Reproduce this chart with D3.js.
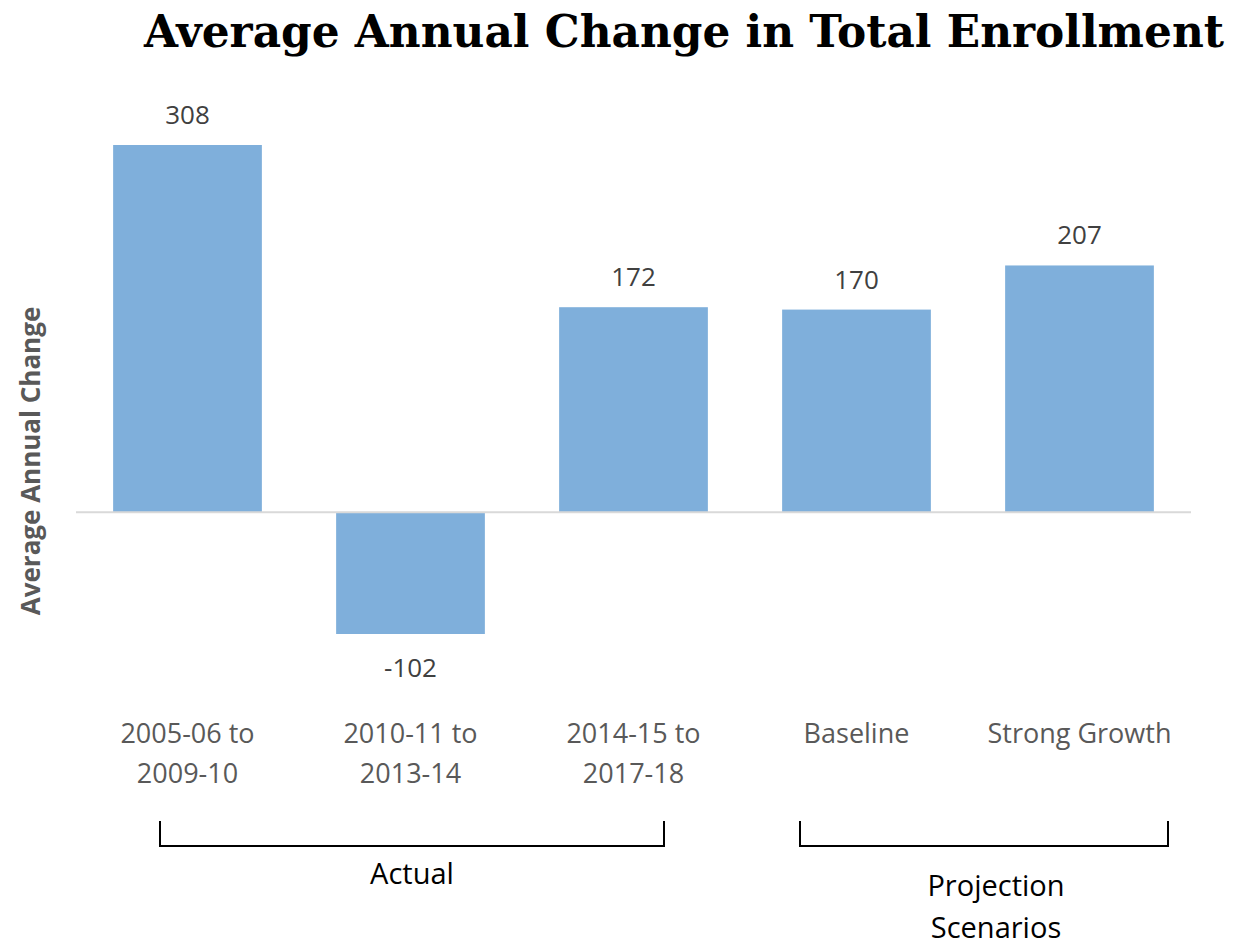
<!DOCTYPE html>
<html>
<head>
<meta charset="utf-8">
<script src="https://cdn.jsdelivr.net/npm/d3@7"></script>
<style>
  body { margin: 0; background: #fff; }
  text { font-family: "Open Sans", "Noto Sans", sans-serif; }
</style>
</head>
<body>
<div id="chart"></div>
<script>
// data
var categories = [["2005-06 to", "2009-10"], ["2010-11 to", "2013-14"], ["2014-15 to", "2017-18"], ["Baseline"], ["Strong Growth"]];
var values = [308, -102, 172, 170, 207];
var groups = [
  {label: ["Actual"], first: 0, last: 2},
  {label: ["Projection", "Scenarios"], first: 3, last: 4}
];

var W = 1239, H = 947;
var svg = d3.select("#chart").append("svg")
    .attr("width", W)
    .attr("height", H);

// scales
var x = d3.scaleBand()
    .domain(d3.range(values.length))
    .range([76, 1191])
    .paddingInner(0.333)
    .paddingOuter(0.1665);

var y = d3.scaleLinear()
    .domain([-102, 308])
    .range([634, 145]);

// title
svg.append("text")
    .attr("x", 684)
    .attr("y", 47)
    .attr("text-anchor", "middle")
    .attr("textLength", 1080)
    .attr("lengthAdjust", "spacingAndGlyphs")
    .style("font-family", "'DejaVu Serif', 'Liberation Serif', serif")
    .style("font-weight", "bold")
    .style("font-size", "44px")
    .attr("fill", "#000")
    .text("Average Annual Change in Total Enrollment");

// y axis label
svg.append("text")
    .attr("transform", "translate(40,461) rotate(-90)")
    .attr("text-anchor", "middle")
    .style("font-size", "26px")
    .style("font-weight", "bold")
    .attr("fill", "#595959")
    .text("Average Annual Change");

// bars
svg.selectAll("rect.bar")
    .data(values)
    .enter()
    .append("rect")
      .attr("class", "bar")
      .attr("x", (d, i) => x(i))
      .attr("width", x.bandwidth())
      .attr("y", d => y(Math.max(0, d)))
      .attr("height", d => Math.abs(y(d) - y(0)))
      .attr("fill", "#7fafdb");

// zero line
svg.append("line")
    .attr("x1", 76)
    .attr("x2", 1191)
    .attr("y1", y(0))
    .attr("y2", y(0))
    .attr("stroke", "#d9d9d9")
    .attr("stroke-width", 2);

// value labels
svg.selectAll("text.value")
    .data(values)
    .enter()
    .append("text")
      .attr("class", "value")
      .attr("x", (d, i) => x(i) + x.bandwidth() / 2)
      .attr("y", d => d >= 0 ? y(d) - 21 : y(d) + 43)
      .attr("text-anchor", "middle")
      .style("font-size", "26px")
      .attr("fill", "#404040")
      .text(d => d);

// category labels
var cat = svg.selectAll("text.cat")
    .data(categories)
    .enter()
    .append("text")
      .attr("class", "cat")
      .attr("text-anchor", "middle")
      .style("font-size", "27px")
      .attr("fill", "#595959");
cat.selectAll("tspan")
    .data((d, i) => d.map(t => ({t: t, i: i})))
    .enter()
    .append("tspan")
      .attr("x", d => x(d.i) + x.bandwidth() / 2)
      .attr("y", (d, j) => 743 + j * 40)
      .text(d => d.t);

// group brackets
var bracketX = [[160, 664], [800, 1168]];
var grp = svg.selectAll("g.group")
    .data(groups)
    .enter()
    .append("g")
      .attr("class", "group");

grp.append("path")
    .attr("d", (d, i) => "M" + bracketX[i][0] + ",821V846H" + bracketX[i][1] + "V821")
    .attr("fill", "none")
    .attr("stroke", "#000")
    .attr("stroke-width", 2);

grp.append("text")
    .attr("text-anchor", "middle")
    .style("font-size", "29px")
    .attr("fill", "#000")
  .selectAll("tspan")
    .data((d, i) => d.label.map(t => ({t: t, i: i, n: d.label.length})))
    .enter()
    .append("tspan")
      .attr("x", d => d.n > 1 ? 996 : (bracketX[d.i][0] + bracketX[d.i][1]) / 2)
      .attr("y", (d, j) => (d.n > 1 ? 896 : 884) + j * 42)
      .text(d => d.t);
</script>
</body>
</html>
